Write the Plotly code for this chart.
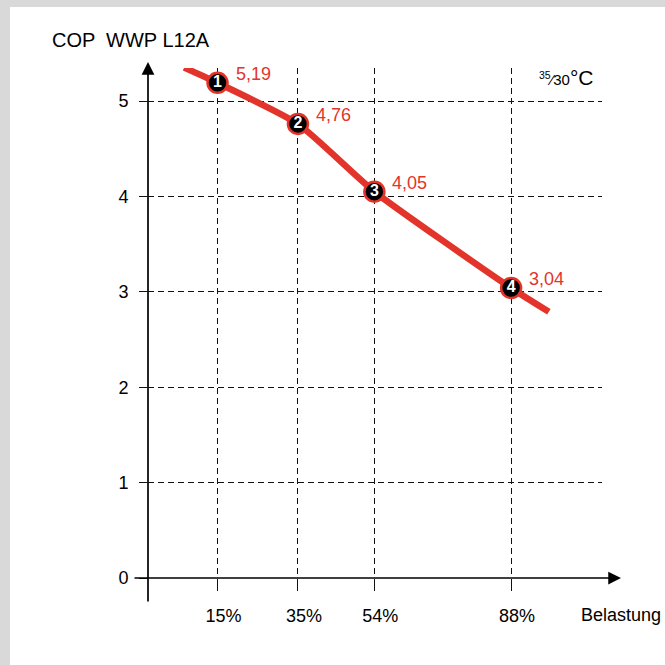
import plotly.graph_objects as go

# ---- data ----
load_pct = [15, 35, 54, 88]
load_labels = ["15%", "35%", "54%", "88%"]
cop_values = [5.19, 4.76, 4.05, 3.04]
point_ids = ["1", "2", "3", "4"]
# curve extends a little beyond the measured points
curve_x = [6.7, 15, 35, 54, 88, 97.4]
curve_y = [5.35, 5.19, 4.76, 4.05, 3.04, 2.79]
y_ticks = [0, 1, 2, 3, 4, 5]

RED = "#e3342b"
FONT = "Liberation Sans, Arial, Helvetica, sans-serif"

W = H = 665
# plot area in pixels
L, R, T, B = 148, 602, 68, 578
PX_PER_Y = 95.4
X0_PX, PX_PER_PCT = 157.2, 4.0215

def px2x(px):
    return (px - X0_PX) / PX_PER_PCT

def py2y(py):
    return (B - py) / PX_PER_Y

def px2paper(px):
    return (px - L) / (R - L)

def py2paper(py):
    return (B - py) / (B - T)

fig = go.Figure()

fig.add_trace(go.Scatter(
    x=curve_x, y=curve_y, mode="lines",
    line=dict(color=RED, width=6.5, shape="spline", smoothing=0.55),
    cliponaxis=False, hoverinfo="skip", showlegend=False))

fig.add_trace(go.Scatter(
    x=load_pct, y=cop_values, mode="markers+text",
    text=point_ids, textposition="middle center",
    textfont=dict(color="white", size=16, family=FONT, weight="bold"),
    marker=dict(size=20, color="black", line=dict(color=RED, width=2.5)),
    cliponaxis=False, showlegend=False))

annotations = []
for x, v in zip(load_pct, cop_values):
    annotations.append(dict(
        x=x, y=v, xref="x", yref="y", text=f"{v:.2f}".replace(".", ","),
        showarrow=False, xanchor="left", yanchor="middle",
        xshift=16, yshift=9, font=dict(color=RED, size=18, family=FONT)))

# axis arrows (head position in paper coords, tail as pixel offset)
annotations.append(dict(
    x=px2paper(148), y=py2paper(62), xref="paper", yref="paper",
    ax=0, ay=603 - 62, axref="pixel", ayref="pixel", text="", showarrow=True,
    arrowhead=2, arrowsize=1.5, arrowwidth=1.7, arrowcolor="black", standoff=0))
annotations.append(dict(
    x=px2paper(621), y=py2paper(B), xref="paper", yref="paper",
    ax=133 - 621, ay=0, axref="pixel", ayref="pixel", text="", showarrow=True,
    arrowhead=2, arrowsize=1.5, arrowwidth=1.7, arrowcolor="black", standoff=0))

annotations.append(dict(
    x=px2paper(50), y=py2paper(40), xref="paper", yref="paper",
    text="COP  WWP L12A",
    showarrow=False, xanchor="left", yanchor="middle",
    font=dict(color="black", size=20, family=FONT)))
annotations.append(dict(
    x=px2paper(537), y=py2paper(77), xref="paper", yref="paper",
    text="<span style='font-size:15px'><sup>35</sup>⁄30</span>°C",
    showarrow=False, xanchor="left", yanchor="middle",
    font=dict(color="black", size=21, family=FONT)))
annotations.append(dict(
    x=px2paper(579), y=py2paper(615), xref="paper", yref="paper",
    text="Belastung",
    showarrow=False, xanchor="left", yanchor="middle",
    font=dict(color="black", size=18, family=FONT)))

shapes = [
    dict(type="rect", xref="paper", yref="paper", layer="below",
         x0=px2paper(0), x1=px2paper(10), y0=py2paper(665), y1=py2paper(0),
         fillcolor="#d9d9d9", line=dict(width=0)),
    dict(type="rect", xref="paper", yref="paper", layer="below",
         x0=px2paper(0), x1=px2paper(665), y0=py2paper(7), y1=py2paper(0),
         fillcolor="#d9d9d9", line=dict(width=0)),
]

fig.update_layout(
    width=W, height=H,
    margin=dict(l=L, r=W - R, t=T, b=H - B, pad=0),
    paper_bgcolor="white", plot_bgcolor="white",
    font=dict(family=FONT, color="black"),
    annotations=annotations, shapes=shapes,
    showlegend=False,
)
fig.update_xaxes(
    range=[px2x(L), px2x(R)], tickvals=load_pct, ticktext=load_labels,
    showgrid=True, gridcolor="#111", gridwidth=1, griddash="6px,4px",
    ticks="outside", ticklen=12, tickcolor="#111", tickwidth=1,
    ticklabelshift=6, ticklabelstandoff=9,
    tickfont=dict(size=18, family=FONT, color="black"),
    zeroline=False, showline=False, fixedrange=True)
fig.update_yaxes(
    range=[0, py2y(T)], tickvals=y_ticks,
    showgrid=True, gridcolor="#111", gridwidth=1, griddash="6px,4px",
    ticks="outside", ticklen=8, tickcolor="#111", tickwidth=1,
    ticklabelstandoff=7,
    tickfont=dict(size=18, family=FONT, color="black"),
    zeroline=False, showline=False, fixedrange=True)

fig.write_html("out.html", config={"displayModeBar": False},
               post_script="document.body.style.margin='0';")
